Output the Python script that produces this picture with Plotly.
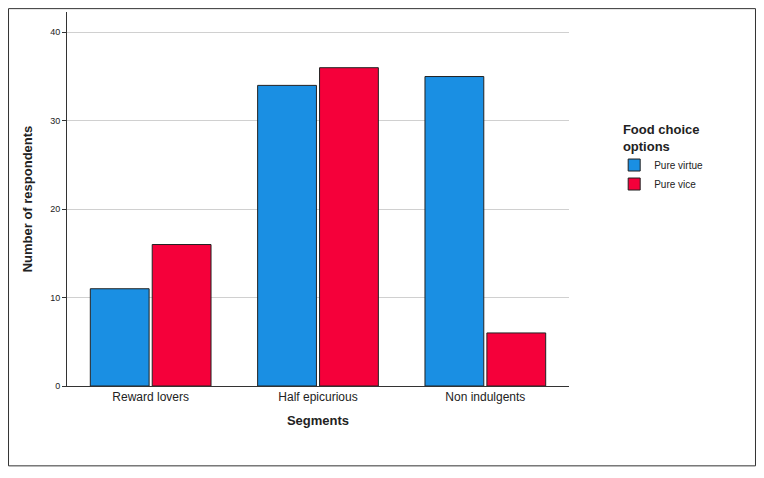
import plotly.graph_objects as go

categories = ["Reward lovers", "Half epicurious", "Non indulgents"]
pure_virtue = [11, 34, 35]
pure_vice = [16, 36, 6]
y_ticks = [0, 10, 20, 30, 40]

fig = go.Figure()
fig.add_bar(x=categories, y=pure_virtue, name="Pure virtue", marker=dict(color="#1a8fe3", line=dict(color="#222", width=1)))
fig.add_bar(x=categories, y=pure_vice, name="Pure vice", marker=dict(color="#f5003a", line=dict(color="#222", width=1)))

fig.update_layout(
    width=748, height=460, barmode="group", bargap=0.26, bargroupgap=0.05,
    paper_bgcolor="white", plot_bgcolor="white",
    margin=dict(l=59, r=187, t=4, b=82),
    font=dict(family="Liberation Sans, Arial", color="#222"),
    legend=dict(x=1.09, y=0.72, xanchor="left", yanchor="top",
                title=dict(text="<b>Food choice<br>options</b>", font=dict(size=13), side="top center"),
                font=dict(size=10)),
    shapes=[dict(type="rect", xref="paper", yref="paper", x0=-0.1165, x1=1.3715, y0=-0.2135, y1=1.009,
                 line=dict(color="#333", width=1))],
)
fig.update_xaxes(showline=True, linecolor="#333", ticks="", tickfont=dict(size=12),
                 title=dict(text="<b>Segments</b>", font=dict(size=13), standoff=12))
fig.update_yaxes(range=[0, 42.3], tickvals=y_ticks, showgrid=True, gridcolor="#d0d0d0",
                 showline=True, linecolor="#333", ticks="outside", ticklen=4, tickcolor="#333",
                 tickfont=dict(size=9), zeroline=False,
                 title=dict(text="<b>Number of respondents</b>", font=dict(size=13), standoff=14))
fig.write_html("out.html")
